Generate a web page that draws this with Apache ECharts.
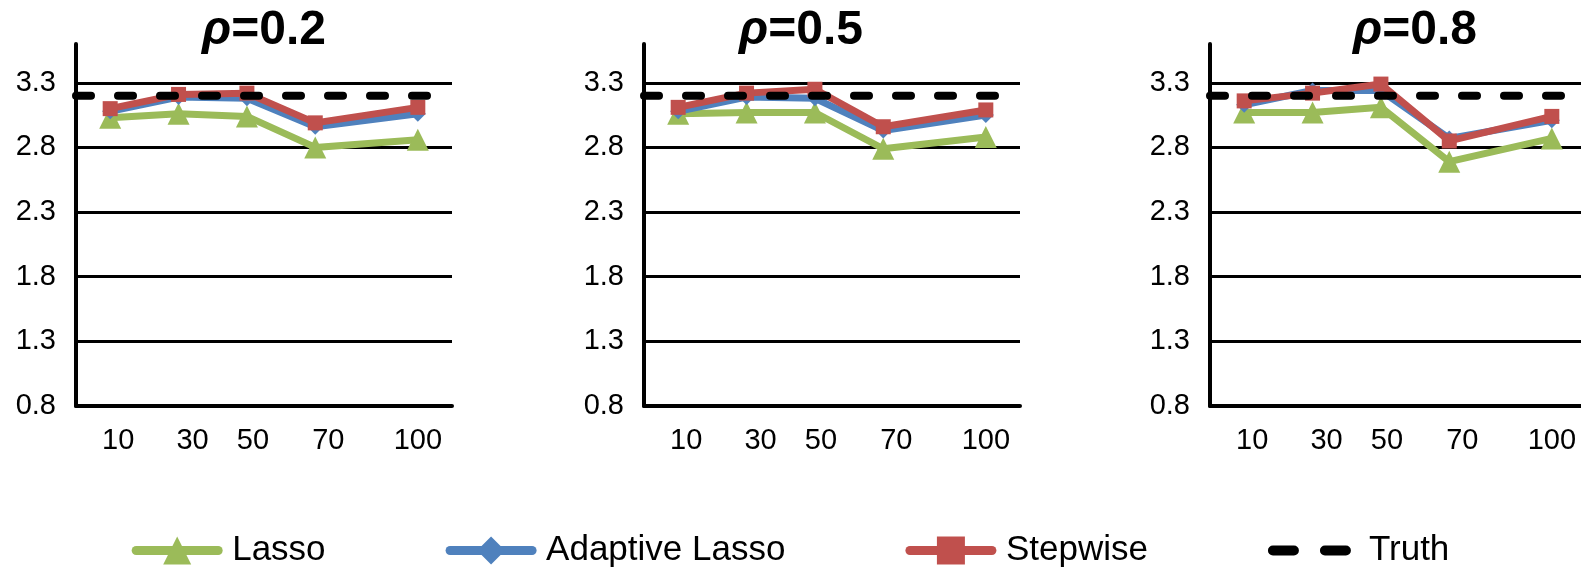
<!DOCTYPE html>
<html>
<head>
<meta charset="utf-8">
<script src="https://cdn.jsdelivr.net/npm/echarts@6/dist/echarts.min.js"></script>
<style>
html,body{margin:0;padding:0;background:#fff;}
#chart{width:1581px;height:570px;}
</style>
</head>
<body>
<div id="chart"></div>
<script>
// ---- data ----
const xValues = [10, 30, 50, 70, 100];
const rhoLabels = ['0.2', '0.5', '0.8'];
const seriesNames = ['Lasso', 'Adaptive Lasso', 'Stepwise', 'Truth'];

const lassoRho02    = [3.03, 3.06, 3.04, 2.80, 2.86];
const adaptiveRho02 = [3.08, 3.19, 3.18, 2.96, 3.06];
const stepwiseRho02 = [3.10, 3.21, 3.22, 2.99, 3.11];

const lassoRho05    = [3.06, 3.07, 3.07, 2.79, 2.88];
const adaptiveRho05 = [3.08, 3.19, 3.18, 2.93, 3.05];
const stepwiseRho05 = [3.11, 3.22, 3.25, 2.96, 3.09];

const lassoRho08    = [3.07, 3.07, 3.11, 2.69, 2.87];
const adaptiveRho08 = [3.13, 3.24, 3.24, 2.87, 3.01];
const stepwiseRho08 = [3.16, 3.22, 3.29, 2.85, 3.04];

const truthValue = 3.2;
const truthSpan = [0, 105];

const yMin = 0.8, yMax = 3.6, yInterval = 0.5;
const xMin = 0, xMax = 110, xInterval = 10;

// ---- layout / style ----
const FONT = 'Liberation Sans, Arial, sans-serif';
const gridLefts = [76, 644, 1210];
const gridWidth = 376;
const titleCenters = [264, 801, 1415];
const colors = {Lasso: '#9BBB59', 'Adaptive Lasso': '#4F81BD', Stepwise: '#C0504D', Truth: '#000000'};
const labelShift = {10: 16, 30: 28, 50: 12, 70: 26, 100: 0};
const TICK_FS = 29;

const panels = [
  [lassoRho02, adaptiveRho02, stepwiseRho02],
  [lassoRho05, adaptiveRho05, stepwiseRho05],
  [lassoRho08, adaptiveRho08, stepwiseRho08]
];

const grids = [], xAxes = [], yAxes = [], series = [], titles = [];
const rich = {};
xValues.forEach(v => { rich['o' + v] = {fontSize: TICK_FS, fontFamily: FONT, color: '#000', padding: [0, 0, 0, labelShift[v]]}; });

panels.forEach((p, i) => {
  grids.push({left: gridLefts[i], top: 44, width: gridWidth, height: 362, outerBoundsMode: 'none', containLabel: false});
  xAxes.push({
    type: 'value', gridIndex: i, min: xMin, max: xMax, interval: xInterval,
    axisLine: {show: true, onZero: false, lineStyle: {color: '#000', width: 4}},
    axisTick: {show: false}, splitLine: {show: false},
    axisLabel: {
      margin: 20, fontSize: TICK_FS, fontFamily: FONT, color: '#000',
      showMinLabel: true, showMaxLabel: true,
      formatter: v => xValues.indexOf(v) >= 0 ? '{o' + v + '|' + v + '}' : '',
      rich: rich
    }
  });
  yAxes.push({
    type: 'value', gridIndex: i, min: yMin, max: yMax, interval: yInterval,
    axisLine: {show: true, lineStyle: {color: '#000', width: 4}},
    axisTick: {show: false},
    splitLine: {show: true, showMaxLine: false, lineStyle: {color: '#000', width: 3}},
    axisLabel: {margin: 20, fontSize: TICK_FS, fontFamily: FONT, color: '#000', showMaxLabel: false,
      formatter: v => v.toFixed(1)}
  });
  titles.push({
    text: '{r|ρ}=' + rhoLabels[i],
    left: titleCenters[i], top: 7, textAlign: 'center', padding: 0,
    textStyle: {fontSize: 48, fontWeight: 'bold', fontFamily: FONT, color: '#000', lineHeight: 48,
      rich: {r: {fontSize: 48, fontWeight: 'bold', fontStyle: 'italic', fontFamily: FONT, color: '#000', lineHeight: 48}}}
  });
  const symbols = ['triangle', 'diamond', 'rect'];
  const sizes = [22, 16, 15];
  p.forEach((vals, k) => {
    const name = seriesNames[k];
    series.push({
      name: name, type: 'line', xAxisIndex: i, yAxisIndex: i,
      data: xValues.map((x, j) => [x, vals[j]]),
      symbol: symbols[k], symbolSize: sizes[k], showSymbol: true,
      lineStyle: {color: colors[name], width: 7, cap: 'round', join: 'round'},
      itemStyle: {color: colors[name]},
      emphasis: {disabled: true}, animation: false, z: 2 + k
    });
  });
  series.push({
    name: 'Truth', type: 'line', xAxisIndex: i, yAxisIndex: i,
    data: truthSpan.map(x => [x, truthValue]),
    symbol: 'none', clip: false,
    lineStyle: {color: '#000', width: 8, type: [15, 27], cap: 'round'},
    itemStyle: {color: '#000'},
    emphasis: {disabled: true}, animation: false, z: 6
  });
});

const chart = echarts.init(document.getElementById('chart'), null, {renderer: 'canvas'});
chart.setOption({
  backgroundColor: '#fff',
  animation: false,
  title: titles,
  grid: grids,
  xAxis: xAxes,
  yAxis: yAxes,
  legend: {
    left: 'center', top: 533, padding: 0,
    itemWidth: 82, itemHeight: 35, itemGap: 120,
    textStyle: {fontSize: 35, fontFamily: FONT, color: '#000', padding: [0, 0, 0, 9]},
    data: [
      {name: 'Lasso', lineStyle: {width: 9, cap: 'round', color: colors.Lasso}},
      {name: 'Adaptive Lasso', lineStyle: {width: 9, cap: 'round', color: colors['Adaptive Lasso']}},
      {name: 'Stepwise', lineStyle: {width: 9, cap: 'round', color: colors.Stepwise}},
      {name: 'Truth', lineStyle: {type: [21, 31], width: 10, cap: 'round', color: '#000'},
        itemStyle: {opacity: 0, color: 'transparent', borderWidth: 0}}
    ]
  },
  series: series
});
</script>
</body>
</html>
